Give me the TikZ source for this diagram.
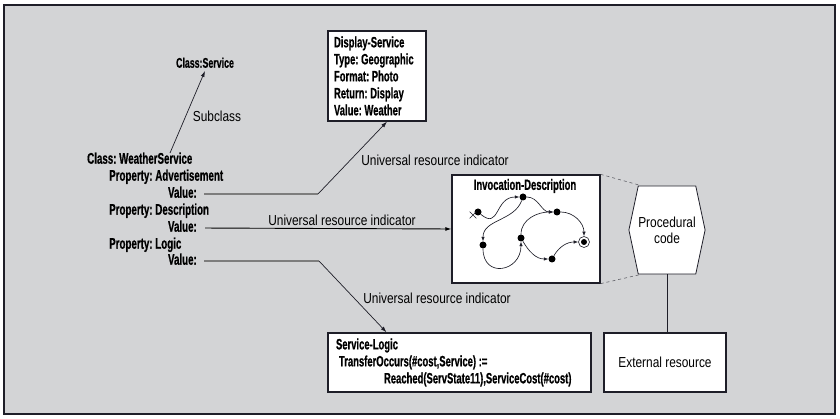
\documentclass[tikz,border=0pt]{standalone}
\usepackage{fontspec}
\usetikzlibrary{arrows.meta,shapes.symbols,shapes.misc}
\newfontfamily\condbold[FakeStretch=0.63, FakeBold=0.6]{Liberation Sans}
\newfontfamily\condlight[FakeStretch=0.82]{Liberation Sans}
\definecolor{panel}{RGB}{211,212,214}
\definecolor{feedgray}{RGB}{125,125,125}
\definecolor{ink}{RGB}{30,30,40}
\tikzset{
  classtext/.style={font=\condbold\bfseries\fontsize{15.5}{16}\selectfont,
    inner sep=0pt, text height=10.5pt, text depth=3pt},
  urilabel/.style={font=\condlight\fontsize{14.5}{16}\selectfont, inner sep=0pt},
  infobox/.style={draw=ink, line width=1.3pt, fill=white, align=flush left,
    font=\condbold\bfseries\fontsize{15}{17}\selectfont},
  feed/.style={draw=feedgray, line width=1.5pt},
  uri/.style={draw=ink, line width=0.7pt, -{Latex[length=6pt,width=4pt]}},
  state/.style={circle, fill=black, inner sep=0pt, minimum size=7pt},
  trans/.style={draw=ink, line width=0.65pt, -{Latex[length=4.5pt,width=3.5pt]}},
}
\frenchspacing
\begin{document}
\begin{tikzpicture}[x=1pt, y=1pt]
\fill[white] (0,0) rectangle (840,419);
\useasboundingbox (0,0) rectangle (840,419);
\fill[panel] (4,5) rectangle (835,414);
\draw[ink, line width=1.4pt] (4,5) rectangle (835,414);

% class description
\node (svc) [classtext, font=\condbold\bfseries\fontsize{14}{16}\selectfont] at (205,355) {Class:Service};
\node (ws) [classtext, anchor=west] at (87,259) {Class: WeatherService};
\node (padv) [classtext, anchor=west] at (109,242) {Property: Advertisement};
\node (vadv) [classtext, anchor=east] at (197,225) {Value:};
\node (pdesc) [classtext, anchor=west] at (109,208) {Property: Description};
\node (vdesc) [classtext, anchor=east] at (197,191) {Value:};
\node (plogic) [classtext, anchor=west] at (109,174) {Property: Logic};
\node (vlogic) [classtext, anchor=east] at (197,158) {Value:};

\draw[uri] ([xshift=83pt]ws.north west) -- (svc.south);
\node (sublbl) [urilabel] at (217,303) {Subclass};

%%%%%%%%%%%%%%%%%%%%%%%%%%%%%%%%%%%%%%%%

\node (disp) [infobox, text width=86pt, inner xsep=6pt, minimum height=90pt] at (377,343)
  {Display-Service\\Type: Geographic\\Format: Photo\\Return: Display\\Value: Weather};
\node (inv) [infobox, minimum width=148pt, minimum height=108pt] at (526,190) {};
\node (invtitle) [font=\condbold\bfseries\fontsize{15}{16}\selectfont] at (525,233) {Invocation-Description};
\node (logic) [infobox, text width=247pt, inner xsep=8pt, minimum height=59pt] at (459.5,56.5)
  {Service-Logic\\\hspace*{3pt}TransferOccurs(\#cost,Service) :=\\\hspace*{48pt}Reached(ServState11),ServiceCost(\#cost)};
\node (ext) [infobox, font=\condlight\fontsize{14.5}{16}\selectfont, align=center,
  minimum width=122pt, minimum height=59pt] at (665,56.5) {External resource};
\node (proc) [signal, signal to=east and west, signal pointer angle=156, draw=ink,
  line width=0.8pt, fill=white, minimum width=70pt, minimum height=88pt, inner sep=0pt,
  align=center, font=\condlight\fontsize{14.5}{16}\selectfont] at (667,189) {Procedural\\code};

% resource indicators
\coordinate (kadv) at (318,225);
\draw[feed, shorten <=7pt] (vadv.east) -- (kadv);
\draw[uri] (kadv) -- ([xshift=10pt]disp.south);
\node (uriadv) [urilabel] at (435,259) {Universal resource indicator};

\draw[uri, draw=black, line width=0.9pt, shorten <=8pt] (vdesc.east) -- (inv.west);
\node (uridesc) [urilabel] at (342,199) {Universal resource indicator};

\coordinate (klogic) at (319,158);
\draw[feed, shorten <=7pt] (vlogic.east) -- (klogic);
\draw[uri] (klogic) -- ([xshift=-73pt]logic.north);
\node (urilogic) [urilabel] at (437,121) {Universal resource indicator};

\draw[dashed, draw=ink!70, line width=0.6pt] (inv.north east) -- ([xshift=-26pt]proc.north);
\draw[dashed, draw=ink!70, line width=0.6pt] (inv.south east) -- ([xshift=-26pt]proc.south);
\draw[draw=ink, line width=0.8pt] (proc.south) -- (proc.south |- ext.north);

%%%%%%%%%%%%%%%%%%%%%%%%%%%%%%%%%%%%%%%%

% invocation states
\node (sA) [state] at (478,207) {};
\node (sB) [state] at (523,222) {};
\node (sC) [state] at (557,207) {};
\node (sD) [state] at (483,174) {};
\node (sE) [state] at (521,181) {};
\node (sG) [state] at (552,160) {};
\node (sF) [circle, draw=ink, line width=0.6pt, inner sep=0pt, minimum size=11pt] at (584,177) {};
\fill (sF.center) circle (3pt);
\node (start) [cross out, draw=ink, line width=0.6pt, inner sep=0pt, minimum size=6pt] at (473,204) {};

\draw[trans] (sA) to[out=-40, in=180, looseness=1.5] (sB);
\draw[trans] (sB) to[out=-110, in=90] (sD);
\draw[trans] (sB) to[out=0, in=180] (sC);
\draw[trans] (sD) to[out=-90, in=-90, looseness=2] (sE);
\draw[trans] (sE) to[out=90, in=180] (sC);
\draw[trans] (sC) to[out=0, in=90] (sF);
\draw[trans] (sE) to[out=-60, in=180] (sG);
\draw[trans] (sG) to[out=60, in=180] (sF);
\end{tikzpicture}
\end{document}
